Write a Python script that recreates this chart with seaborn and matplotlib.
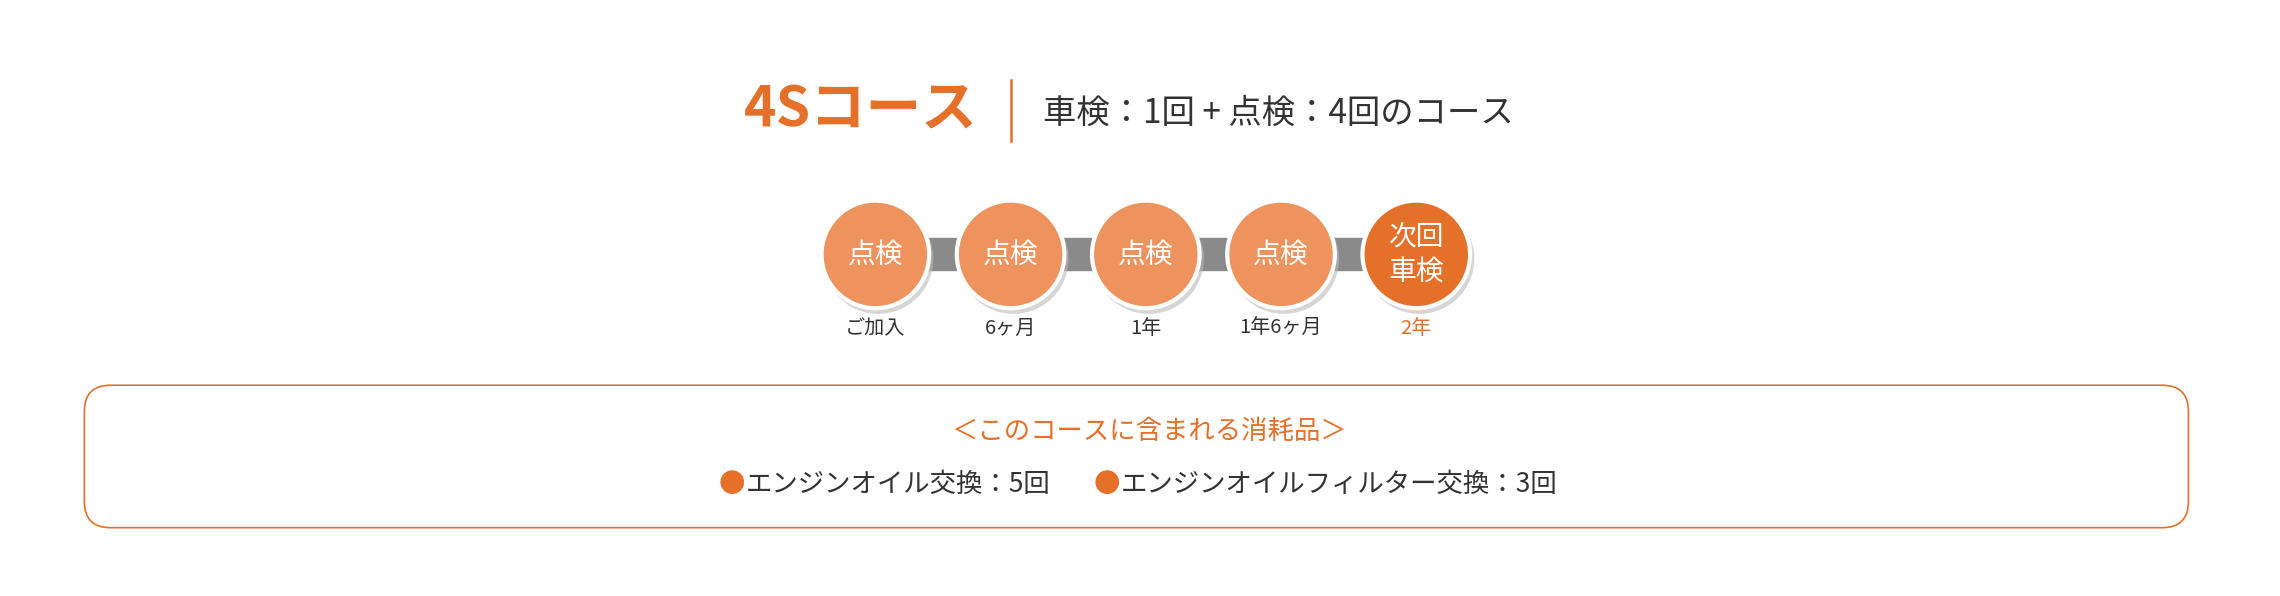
import matplotlib
matplotlib.use("Agg")
import matplotlib.pyplot as plt
import seaborn as sns
import pandas as pd
from matplotlib.patches import FancyBboxPatch, Rectangle

plt.rcParams["font.family"] = "Noto Sans CJK JP"

course_name = "4Sコース"
course_desc = "車検：1回 + 点検：4回のコース"
step_labels = ["点検", "点検", "点検", "点検", "次回\n車検"]
step_timing = ["ご加入", "6ヶ月", "1年", "1年6ヶ月", "2年"]
step_kind = ["点検", "点検", "点検", "点検", "車検"]
box_title = "＜このコースに含まれる消耗品＞"
items = ["エンジンオイル交換：5回", "エンジンオイルフィルター交換：3回"]

ORANGE = "#E4702A"
LIGHT = "#EE935D"

fig = plt.figure(figsize=(22.8, 5.96), dpi=100)
ax = fig.add_axes([0, 0, 1, 1])
ax.set_xlim(0, 1568)
ax.set_ylim(410, 0)
ax.axis("off")

ax.text(672, 76, course_name, ha="right", va="center", fontsize=40, fontweight="bold", color=ORANGE)
ax.plot([695, 695], [55, 97], color=ORANGE, lw=1.8)
ax.text(717, 78, course_desc, ha="left", va="center", fontsize=24, color="#333333")

x0, dx, yc = 602, 93, 175
df = pd.DataFrame({"i": range(len(step_labels)), "kind": step_kind})
df["x"] = x0 + df["i"] * dx
df["y"] = yc

ax.add_patch(Rectangle((x0, yc - 11), dx * (len(df) - 1), 22, color="#8a8a8a", zorder=1))
sns.scatterplot(data=df, x=df["x"] + 2, y=df["y"] + 3, s=6300, color="#bbbbbb", edgecolor="none",
                legend=False, ax=ax, zorder=2, alpha=0.6)
sns.scatterplot(data=df, x="x", y="y", hue="kind", palette={"点検": LIGHT, "車検": ORANGE},
                s=6000, edgecolor="white", linewidth=3, legend=False, ax=ax, zorder=3)
for _, r in df.iterrows():
    ax.text(r.x, r.y, step_labels[r.i], ha="center", va="center", fontsize=20,
            color="white", zorder=4, linespacing=1.25)
    ax.text(r.x, 226, step_timing[r.i], ha="center", va="center", fontsize=14.5,
            color=ORANGE if r.kind == "車検" else "#333333", zorder=4)

ax.set_xlabel(""); ax.set_ylabel("")

ax.add_patch(FancyBboxPatch((58, 265), 1447, 98, boxstyle="round,pad=0,rounding_size=18",
                            fc="white", ec=ORANGE, lw=1.2))
ax.text(790, 297, box_title, ha="center", va="center", fontsize=19, color=ORANGE)
for xs, txt in zip([494, 752], items):
    ax.text(xs, 333, "●", ha="left", va="center", fontsize=19, color=ORANGE)
    ax.text(xs + 19, 333, txt, ha="left", va="center", fontsize=19, color="#333333")

fig.savefig("out.png", dpi=100)
